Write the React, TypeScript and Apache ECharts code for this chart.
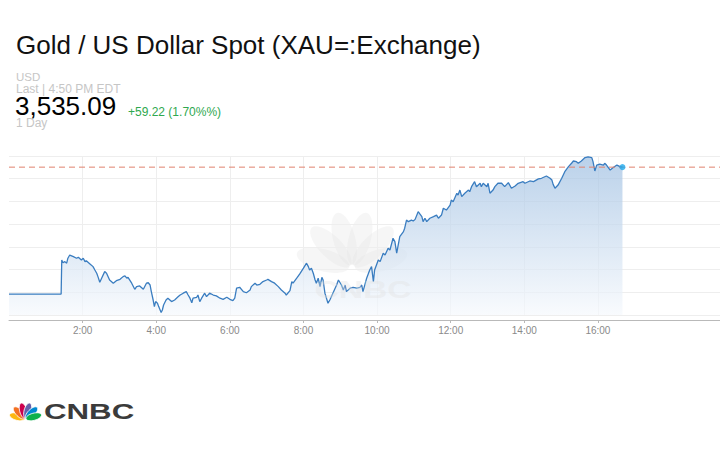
import React, { useEffect, useRef } from "react";
import * as echarts from "echarts";

const TITLE = "Gold / US Dollar Spot (XAU=:Exchange)";
const CURRENCY = "USD";
const LAST_LABEL = "Last | 4:50 PM EDT";
const LAST_PRICE = 3535.09;
const LAST_PRICE_TEXT = "3,535.09";
const CHANGE_TEXT = "+59.22 (1.70%%)";
const RANGE_LABEL = "1 Day";
const BRAND = "CNBC";

// x axis in minutes from midnight
const hourTickMinutes = [120, 240, 360, 480, 600, 720, 840, 960];
const X_MIN = 0;
const X_MAX = 1159;
const Y_MIN = 3470;
const Y_MAX = 3540;
const Y_STEP = 10;

// [minute of day, price]
const priceTicks: [number, number][] = [
  [0, 3479.2], [85, 3479.2], [86, 3494.2], [88, 3493.0], [91, 3493.5], [94, 3492.8],
  [96, 3495.0], [99, 3496.4], [105, 3495.7], [110, 3495.0], [113, 3495.4], [118, 3494.2],
  [121, 3495.0], [124, 3493.5], [126, 3493.9], [132, 3492.5], [137, 3491.3], [140, 3489.8],
  [143, 3488.4], [145, 3486.9], [148, 3484.4], [151, 3486.2], [156, 3489.1], [159, 3488.4],
  [164, 3485.4], [170, 3484.0], [175, 3485.1], [181, 3485.7], [186, 3486.9], [189, 3487.2],
  [192, 3486.2], [194, 3486.6], [200, 3484.0], [205, 3481.3], [208, 3482.5], [213, 3482.8],
  [219, 3481.3], [224, 3484.0], [227, 3484.2], [230, 3483.2], [232, 3480.3], [235, 3476.6],
  [237, 3473.7], [239, 3475.9], [242, 3475.2], [244, 3473.7], [248, 3471.1], [250, 3472.2],
  [252, 3474.4], [256, 3476.6], [259, 3477.4], [265, 3475.9], [270, 3476.6], [276, 3478.1],
  [279, 3478.8], [284, 3479.6], [289, 3480.3], [292, 3478.8], [295, 3477.4], [298, 3475.4],
  [300, 3477.4], [306, 3477.8], [308, 3478.8], [311, 3475.9], [314, 3477.4], [319, 3479.6],
  [322, 3478.1], [327, 3479.6], [333, 3478.8], [338, 3478.4], [344, 3477.4], [349, 3476.9],
  [355, 3477.8], [360, 3476.9], [365, 3476.3], [368, 3477.4], [371, 3481.8], [376, 3482.2],
  [382, 3480.3], [387, 3479.8], [393, 3481.0], [395, 3482.5], [401, 3484.0], [404, 3483.2],
  [409, 3483.5], [414, 3484.7], [420, 3485.4], [422, 3485.7], [428, 3484.7], [433, 3484.0],
  [439, 3482.5], [444, 3481.0], [450, 3479.6], [452, 3478.8], [458, 3480.7], [461, 3484.7],
  [463, 3484.0], [469, 3486.2], [474, 3488.1], [480, 3490.6], [485, 3492.8], [488, 3491.3],
  [490, 3489.8], [493, 3490.6], [496, 3488.4], [499, 3485.4], [501, 3484.0], [504, 3486.2],
  [507, 3482.5], [510, 3486.6], [512, 3485.4], [515, 3479.6], [520, 3475.2], [523, 3476.6],
  [528, 3479.6], [534, 3483.2], [537, 3485.4], [542, 3483.2], [545, 3481.0], [548, 3483.2],
  [550, 3480.3], [556, 3481.8], [561, 3482.2], [567, 3481.8], [572, 3482.2], [575, 3483.2],
  [577, 3480.3], [583, 3486.2], [588, 3489.8], [591, 3491.3], [594, 3484.7], [596, 3489.8],
  [602, 3494.2], [605, 3493.5], [610, 3497.2], [613, 3496.4], [618, 3499.4], [621, 3498.6],
  [626, 3503.8], [629, 3502.3], [632, 3497.2], [637, 3504.5], [643, 3506.7], [645, 3508.2],
  [648, 3511.8], [651, 3511.1], [656, 3511.8], [659, 3511.4], [662, 3512.1], [667, 3515.5],
  [673, 3513.3], [675, 3511.1], [678, 3512.6], [681, 3511.1], [686, 3512.6], [692, 3513.3],
  [697, 3514.0], [700, 3512.6], [705, 3514.0], [708, 3517.0], [713, 3516.2], [719, 3518.4],
  [721, 3520.6], [724, 3519.9], [730, 3523.6], [732, 3522.8], [735, 3525.0], [738, 3522.1],
  [743, 3523.6], [749, 3525.0], [751, 3524.3], [754, 3526.5], [759, 3528.7], [762, 3526.5],
  [768, 3528.0], [770, 3526.5], [773, 3528.0], [779, 3526.5], [781, 3528.0], [784, 3523.6],
  [789, 3525.0], [792, 3526.5], [797, 3528.0], [803, 3528.0], [808, 3526.5], [814, 3528.3],
  [819, 3525.8], [825, 3526.8], [830, 3528.0], [838, 3528.7], [841, 3528.0], [849, 3529.0],
  [855, 3528.7], [863, 3529.9], [868, 3530.2], [876, 3531.2], [882, 3530.2], [885, 3529.4],
  [887, 3527.5], [890, 3525.8], [895, 3527.2], [901, 3530.2], [906, 3533.1], [912, 3535.3],
  [917, 3536.8], [920, 3537.8], [925, 3537.5], [928, 3536.8], [933, 3537.8], [939, 3539.3],
  [944, 3539.6], [950, 3539.3], [952, 3537.5], [955, 3533.4], [958, 3536.0], [963, 3536.4],
  [969, 3536.0], [971, 3536.8], [974, 3536.0], [980, 3533.8], [985, 3534.9], [991, 3536.0],
  [996, 3535.3], [1000, 3535.09],
];

const FONT = "'Liberation Sans', Arial, Helvetica, sans-serif";
const PEACOCK_COLORS = ["#fcb711", "#f37021", "#cc004c", "#6460aa", "#0089d0", "#0db14b"];
const PEACOCK_ANGLES = [165, 135, 105, 75, 45, 15];

function peacock(ox: number, oy: number, dist: number, rx: number, ry: number, colors: string[], opacity: number, stroke: string | null) {
  return PEACOCK_ANGLES.map((a, i) => ({
    type: "group",
    x: ox,
    y: oy,
    rotation: ((a - 90) * Math.PI) / 180,
    children: [
      {
        type: "ellipse",
        shape: { cx: 0, cy: -dist, rx, ry },
        style: { fill: colors[i], opacity, stroke: stroke || undefined, lineWidth: stroke ? 0.8 : 0 },
      },
    ],
  }));
}

function txt(x: number, y: number, text: string, fontSize: number, fill: string, extra: any = {}) {
  return {
    type: "text",
    x,
    y,
    silent: true,
    style: {
      text,
      fill,
      fontSize,
      fontFamily: FONT,
      fontWeight: extra.fontWeight || "normal",
      align: extra.align || "left",
      verticalAlign: "middle",
      lineHeight: extra.lineHeight ?? Math.round(fontSize * 0.85),
      opacity: extra.opacity ?? 1,
    },
    scaleX: extra.scaleX ?? 1,
    z: extra.z ?? 10,
  };
}

export default function App() {
  const ref = useRef<HTMLDivElement>(null);

  useEffect(() => {
    if (!ref.current) return;
    const chart = echarts.init(ref.current, undefined, { renderer: "svg" });
    const last = priceTicks[priceTicks.length - 1];

    const watermark = [
      ...peacock(352, 268, 30, 11, 27, Array(6).fill("#e2e2e2"), 0.32, null),
      txt(363, 290, BRAND, 24, "#e2e2e2", { fontWeight: "bold", align: "center", scaleX: 1.4, opacity: 0.4 }),
    ].map((e: any) => ({ ...e, z: 50 }));

    chart.setOption({
      animation: false,
      backgroundColor: "#ffffff",
      textStyle: { fontFamily: FONT },
      grid: { left: 9, right: 0, top: 156, bottom: 135, containLabel: false },
      xAxis: {
        type: "value",
        min: X_MIN,
        max: X_MAX,
        interval: 120,
        offset: 5,
        axisLine: { show: true, lineStyle: { color: "#b9b9b9", width: 1 } },
        axisTick: { show: true, length: 3, customValues: hourTickMinutes, lineStyle: { color: "#b9b9b9" } },
        axisLabel: {
          customValues: hourTickMinutes,
          formatter: (v: number) => `${Math.round(v / 60)}:00`,
          color: "#8a8a8a",
          fontSize: 10,
          fontFamily: FONT,
          margin: 5,
        },
        splitLine: { show: true, lineStyle: { color: "#eeeeee", width: 1 } },
      },
      yAxis: {
        type: "value",
        min: Y_MIN,
        max: Y_MAX,
        interval: Y_STEP,
        axisLine: { show: false },
        axisTick: { show: false },
        axisLabel: { show: false },
        splitLine: { show: true, lineStyle: { color: "#eeeeee", width: 1 } },
      },
      series: [
        {
          type: "line",
          data: priceTicks,
          showSymbol: false,
          symbol: "none",
          z: 2,
          lineStyle: { color: "#3a7dc0", width: 1.3 },
          areaStyle: {
            origin: "start",
            color: new echarts.graphic.LinearGradient(0, 0, 0, 1, [
              { offset: 0, color: "#9dbee1" },
              { offset: 1, color: "#f6f9fd" },
            ]),
          },
        },
        {
          type: "line",
          data: [[X_MIN, LAST_PRICE], [X_MAX, LAST_PRICE]],
          showSymbol: false,
          symbol: "none",
          silent: true,
          z: 3,
          itemStyle: { color: "#e0826e" },
          lineStyle: { type: [6, 4], color: "#e0826e", width: 1 },
        },
        {
          type: "scatter",
          data: [[last[0], last[1]]],
          symbolSize: 6,
          z: 4,
          itemStyle: { color: "#1fa9ec" },
        },
      ],
      graphic: [
        txt(16, 45, TITLE, 26, "#111111"),
        txt(16, 76.7, CURRENCY, 11.5, "#c6c6c6"),
        txt(16, 89, LAST_LABEL, 12, "#c6c6c6"),
        txt(15, 106, LAST_PRICE_TEXT, 26, "#000000", { lineHeight: 19 }),
        txt(128, 111.8, CHANGE_TEXT, 12, "#2fa84f"),
        txt(16, 122.5, RANGE_LABEL, 12, "#c6c6c6"),
        ...watermark,
        ...peacock(25.5, 419, 8.5, 3.6, 8, PEACOCK_COLORS, 1, "#ffffff"),
        txt(44, 411.7, BRAND, 22, "#3b3b3b", { fontWeight: "bold", scaleX: 1.42 }),
      ],
    });

    return () => chart.dispose();
  }, []);

  return (
    <div
      ref={ref}
      style={{ position: "fixed", left: 0, top: 0, width: 720, height: 450, background: "#fff" }}
    />
  );
}
